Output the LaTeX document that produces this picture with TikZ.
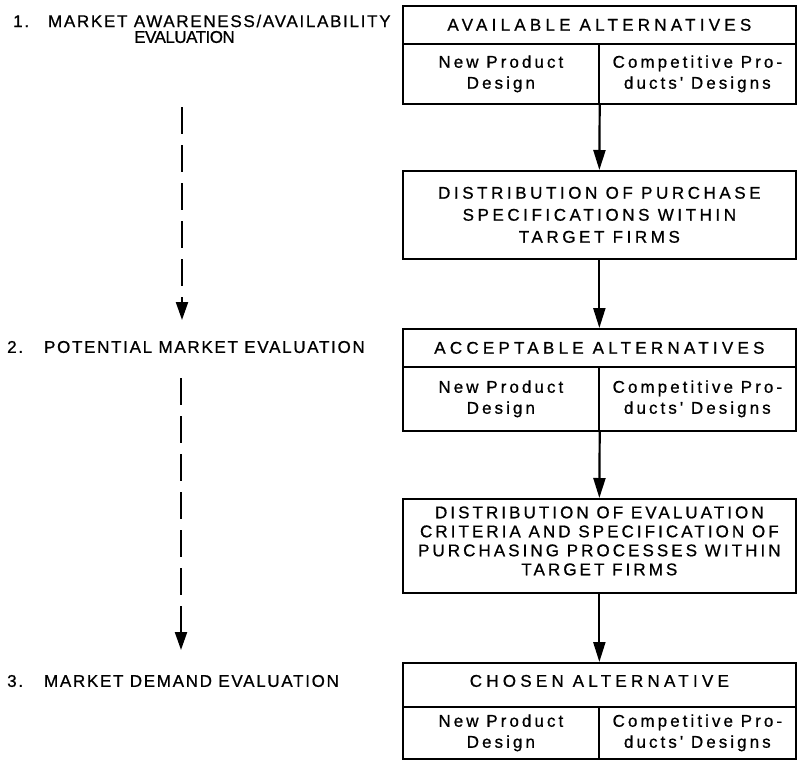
\documentclass[tikz,border=0pt]{standalone}
\usepackage{fontspec}
\setmainfont{Liberation Sans}
\newfontfamily\hdrfont[LetterSpace=25,FakeBold=0.8]{Liberation Sans}
\newfontfamily\dtwofont[LetterSpace=21,FakeBold=0.8]{Liberation Sans}
\newfontfamily\distfont[LetterSpace=18,FakeBold=0.8]{Liberation Sans}
\newfontfamily\lowfont[LetterSpace=18,FakeBold=0.8]{Liberation Sans}
\newfontfamily\lblfont[LetterSpace=10,FakeBold=0.8]{Liberation Sans}
\newfontfamily\tightfont[LetterSpace=-3,FakeBold=0.8]{Liberation Sans}
\usetikzlibrary{arrows.meta}
\begin{document}
\begin{tikzpicture}[x=1pt,y=-1pt,
  cell/.style={draw, line width=1.7pt, rectangle, inner sep=0pt, anchor=north west, align=center},
  hdr/.style={cell, font=\hdrfont\fontsize{17}{21}\selectfont},
  low/.style={cell, font=\lowfont\fontsize{17}{21}\selectfont},
  dist/.style={cell, font=\distfont\fontsize{17}{22}\selectfont},
  lbl/.style={anchor=west, inner sep=0pt, font=\lblfont\fontsize{17}{20}\selectfont},
  arr/.style={line width=2.2pt, -{Triangle[length=20pt,width=12pt]}},
  darr/.style={line width=2.2pt, dash pattern=on 27pt off 11pt, -{Triangle[length=18pt,width=12pt]}}]
\useasboundingbox (0,0) rectangle (799,760);
% box 1
\node[hdr, minimum width=393pt, minimum height=38pt] (h1) at (402,5) {AVAILABLE ALTERNATIVES};
\node[low, minimum width=196pt, minimum height=60pt] (l1) at (402,43) {New Product\\Design};
\node[low, minimum width=197pt, minimum height=60pt] (r1) at (598,43) {Competitive Pro-\\ducts' Designs};
% box 2
\node[dist, font=\dtwofont\fontsize{17}{22}\selectfont, minimum width=393pt, minimum height=88pt] (d2) at (402,170) {DISTRIBUTION OF PURCHASE\\SPECIFICATIONS WITHIN\\TARGET FIRMS};
% box 3
\node[hdr, minimum width=393pt, minimum height=38pt] (h3) at (402,328) {ACCEPTABLE ALTERNATIVES};
\node[low, minimum width=196pt, minimum height=64pt] (l3) at (402,366) {New Product\\Design};
\node[low, minimum width=197pt, minimum height=64pt] (r3) at (598,366) {Competitive Pro-\\ducts' Designs};
% box 4
\node[dist, font=\distfont\fontsize{17}{19}\selectfont, minimum width=393pt, minimum height=94pt] (d4) at (402,498) {DISTRIBUTION OF EVALUATION\\CRITERIA AND SPECIFICATION OF\\PURCHASING PROCESSES WITHIN\\TARGET FIRMS\rule[-10pt]{0pt}{10pt}};
% box 5
\node[hdr, minimum width=393pt, minimum height=44pt] (h5) at (402,662) {CHOSEN ALTERNATIVE\rule[-8pt]{0pt}{8pt}};
\node[low, minimum width=196pt, minimum height=52pt] (l5) at (402,706) {New Product\\Design};
\node[low, minimum width=197pt, minimum height=52pt] (r5) at (598,706) {Competitive Pro-\\ducts' Designs};
% arrows
\draw[arr] (l1.south east) -- (d2.north);
\draw[arr] (d2.south) -- (h3.north);
\draw[arr] (l3.south east) -- (d4.north);
\draw[arr] (d4.south) -- (h5.north);
% left labels
\node[lbl] (t1) at (13,21) {1.\hspace{19pt}MARKET AWARENESS/AVAILABILITY};
\node[lbl, font=\tightfont\fontsize{17}{20}\selectfont] (t1b) at (134,37) {EVALUATION};
\node[lbl] (t2) at (7,347) {2.\hspace{21pt}POTENTIAL MARKET EVALUATION};
\node[lbl] (t3) at (7,681) {3.\hspace{21pt}MARKET DEMAND EVALUATION};
\coordinate (s1) at (182,107);
\coordinate (e1) at (182,320);
\coordinate (s2) at (181,378);
\coordinate (e2) at (181,650);
\draw[darr] (s1) -- (e1);
\draw[darr] (s2) -- (e2);
\end{tikzpicture}
\end{document}
